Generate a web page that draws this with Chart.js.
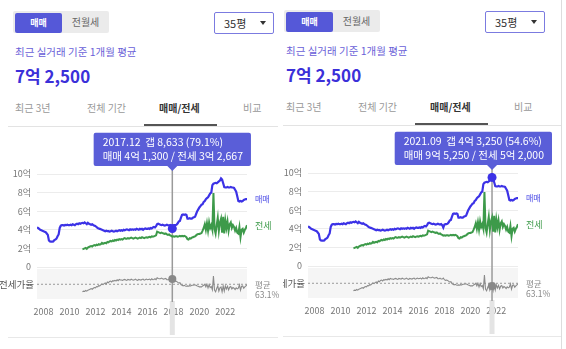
<!DOCTYPE html>
<html><head><meta charset="utf-8">
<script src="https://cdn.jsdelivr.net/npm/chart.js@4.4.1/dist/chart.umd.min.js"></script>
<style>
html,body{margin:0;padding:0;background:#fff;}
body{width:566px;height:349px;overflow:hidden;position:relative;font-family:"Noto Sans CJK KR","Noto Sans",sans-serif;}
.panel{position:absolute;top:0;height:349px;overflow:hidden;}
.inner{position:absolute;width:300px;height:349px;}
.abs{position:absolute;white-space:nowrap;}
.seg{left:13px;top:11px;width:96px;height:22px;background:#ebebeb;border-radius:2px;}
.seg .on{position:absolute;left:2px;top:2px;width:47px;height:20px;background:#5558d8;color:#fff;font-size:9px;font-weight:bold;line-height:20px;text-align:center;border-radius:2px;}
.seg .off{position:absolute;left:49px;top:0;width:47px;height:22px;color:#666;font-size:10px;line-height:22px;text-align:center;}
.size{left:214px;top:12px;width:58px;height:20px;border:1px solid #7b7be0;border-radius:2px;}
.size .t{position:absolute;left:9px;top:0;line-height:20px;font-size:11px;color:#333;}
.size .tri{position:absolute;left:45px;top:8px;width:0;height:0;border-left:3.5px solid transparent;border-right:3.5px solid transparent;border-top:4px solid #333;}
.sub{left:15px;top:45px;font-size:10.5px;line-height:14px;color:#6a5fd8;}
.big{left:15px;top:65px;font-size:17px;line-height:22px;font-weight:bold;color:#3b30d9;}
.tab{top:101px;font-size:10px;line-height:14px;color:#999;}
.tab.act{color:#333;font-weight:bold;}
.line{background:#e3e3e3;height:1px;}
.under{left:144px;top:124px;width:73px;height:2px;background:#555;}
canvas{position:absolute;left:0;top:128px;}
</style>
</head><body>
<div id="p1" class="panel" style="left:0;width:280px;"></div>
<div id="p2" class="panel" style="left:283px;width:283px;"><div class="abs" style="left:278px;top:0;width:1px;height:349px;background:#ddd;"></div></div>
<script>
// ---- data (억 원, monthly from 2007.07) ----
const START_YEAR = 2007;
const START_MONTH = 7;
const saleEok = [
  4.25,4.2,4.1,4.0,3.95,3.9,
  3.85,3.8,3.75,3.6,3.45,2.85,2.75,2.72,2.72,2.75,2.9,2.95,
  3.05,3.3,3.5,4.2,4.45,4.5,4.5,4.45,4.52,4.5,4.55,4.5,
  4.5,4.55,4.5,4.6,4.55,4.5,4.6,4.65,4.6,4.7,4.65,4.7,
  4.75,4.7,4.8,4.7,4.6,4.75,4.65,4.6,4.55,4.6,4.5,4.45,
  4.4,4.3,4.2,4.15,4.1,4.05,4.0,3.95,3.9,3.85,3.9,3.85,
  3.85,3.8,3.85,3.9,3.85,3.8,3.85,3.9,3.85,3.9,3.95,3.9,
  3.95,3.9,4.0,3.95,4.0,4.05,4.0,3.95,4.05,4.0,4.05,4.0,
  4.05,4.0,4.1,4.05,4.0,4.1,4.05,4.1,4.0,4.1,4.15,4.1,
  4.1,4.15,4.1,4.2,4.15,4.25,4.3,4.25,4.4,4.6,4.65,4.6,
  4.55,4.5,4.55,4.5,4.45,4.5,4.55,4.5,4.45,4.5,4.4,4.13,
  4.45,4.5,4.5,4.55,4.7,4.9,4.95,5.3,5.6,5.65,5.6,5.65,
  5.6,5.2,5.2,5.25,5.2,5.2,5.3,5.35,5.4,5.7,6.0,6.2,
  6.4,6.55,6.7,6.75,7.0,7.1,7.3,7.4,7.5,7.7,7.9,8.0,
  8.8,8.95,9.0,9.05,9.0,9.1,9.2,9.3,9.525,9.4,9.0,8.6,
  8.57,8.55,8.6,8.55,8.55,8.6,8.55,8.55,8.5,8.3,8.1,7.6,
  7.1,7.05,7.1,7.05,7.1,7.2,7.25,7.3,7.3
];
const JEONSE_START_INDEX = 42; // 2011.01
const jeonseEok = [
  1.9,1.95,2.0,2.05,1.95,2.1,2.15,2.2,2.25,2.2,2.3,2.35,
  2.3,2.4,2.35,2.45,2.4,2.45,2.6,2.5,2.55,2.6,2.55,2.7,
  2.65,2.75,2.8,2.75,2.85,2.8,2.9,2.85,2.95,2.9,3.0,2.95,
  3.0,2.95,3.05,3.1,3.05,3.05,3.1,3.05,3.1,3.15,3.1,3.05,
  3.1,3.15,3.1,3.05,3.1,3.15,3.1,3.2,3.15,3.1,3.15,3.2,
  3.15,3.2,3.25,3.2,3.3,3.25,3.3,3.35,3.4,3.8,3.75,3.7,
  3.65,3.7,3.65,3.6,3.55,3.6,3.5,3.45,3.5,3.4,3.35,3.2667,
  3.3,3.25,3.3,3.3,3.25,3.3,3.35,3.3,3.35,3.3,3.35,3.3,
  3.2,3.0,2.95,3.1,3.05,3.15,3.2,3.25,3.3,3.4,3.5,3.55,
  3.55,3.6,3.65,3.9,4.2,4.6,4.0,4.7,3.9,4.8,4.2,4.5,
  4.0,7.96,4.1,3.6,4.5,5.3,3.9,4.8,5.2,3.7,5.4,3.6,
  5.0,4.2,4.9,3.9,4.6,4.8,4.2,4.5,4.3,3.9,4.2,3.7,
  3.6,4.3,3.2,4.0,4.1,3.7,4.0,4.2,4.5
];
const ratioPct = [
  40,42,41,44,42,45,46,48,50,48,51,53,
  52,56,55,59,58,61,64,62,65,67,64,70,
  68,72,73,70,74,73,75,73,77,74,78,76,
  76,75,77,78,76,75,78,77,76,79,77,76,
  77,79,76,75,78,77,76,78,79,76,77,79,
  77,78,79,76,80,77,78,80,77,83,81,80,
  80,82,80,79,80,81,77,77,79,76,76,79.1,
  74,72,73,72,69,67,68,62,60,58,60,58,
  57,58,57,59,58,60,60,61,61,60,58,57,
  55,55,55,58,60,63,55,63,52,62,53,56,
  46,88,45,40,50,58,42,52,54.6,40,58,42,
  58,49,57,46,54,56,49,53,51,47,52,49,
  51,61,45,57,58,51,55,58,62
];
const ratioAverage = 63.1;
const yearTicks = [2008,2010,2012,2014,2016,2018,2020,2022];
const priceTicks = [0,2,4,6,8,10];
const highlightMonths = ['2017.12','2021.09'];

// ---- derived structures ----
const FONT = '"Noto Sans CJK KR","Noto Sans",sans-serif';
Chart.defaults.font.family = FONT;
const monthLabels = saleEok.map((_, i) => {
  const t = START_MONTH - 1 + i;
  const y = START_YEAR + Math.floor(t / 12), m = t % 12 + 1;
  return y + '.' + String(m).padStart(2, '0');
});
const xOf = i => START_YEAR + (START_MONTH - 1 + i) / 12;
const jeonseFull = saleEok.map((_, i) => i >= JEONSE_START_INDEX ? jeonseEok[i - JEONSE_START_INDEX] : null);
const ratioFull = saleEok.map((_, i) => i >= JEONSE_START_INDEX ? ratioPct[i - JEONSE_START_INDEX] : null);
const X_MIN = xOf(0), X_MAX = xOf(saleEok.length - 1);

function fmtMan(eok) {
  const man = Math.round(eok * 10000);
  const e = Math.floor(man / 10000), r = man % 10000;
  const rs = r.toLocaleString('en-US');
  return e > 0 ? e + '억 ' + rs : rs;
}

Chart.Tooltip.positioners.aboveArea = function (items) {
  if (!items.length) return false;
  return { x: items[0].element.x, y: this.chart.chartArea.top - 3 };
};

const deco = {
  id: 'deco',
  beforeDatasetsDraw(chart) {
    const ctx = chart.ctx, ca = chart.chartArea, y2 = chart.scales.y2;
    ctx.save();
    ctx.fillStyle = '#f5f5f5';
    ctx.fillRect(ca.left, y2.top + 2, ca.right - ca.left, y2.bottom - y2.top - 2);
    const act = chart.getActiveElements();
    if (act.length) {
      const x = act[0].element.x;
      ctx.fillStyle = '#e4e4e4';
      ctx.fillRect(x - 2.5, ca.bottom + 2, 5, 34);
      ctx.strokeStyle = '#9a9a9a';
      ctx.lineWidth = 1.5;
      ctx.beginPath();
      ctx.moveTo(x, ca.top - 4);
      ctx.lineTo(x, ca.bottom + 3);
      ctx.stroke();
    }
    ctx.restore();
  },
  afterDatasetsDraw(chart) {
    const ctx = chart.ctx, ca = chart.chartArea, y = chart.scales.y, y2 = chart.scales.y2;
    const tx = ca.right + 8;
    ctx.save();
    ctx.textBaseline = 'middle';
    ctx.textAlign = 'left';
    ctx.font = '8px ' + FONT;
    ctx.fillStyle = '#4a4ae6';
    ctx.fillText('매매', tx, y.getPixelForValue(saleEok[saleEok.length - 1]));
    ctx.font = '9px ' + FONT;
    ctx.fillStyle = '#3d9a4a';
    ctx.fillText('전세', tx, y.getPixelForValue(jeonseEok[jeonseEok.length - 1]));
    ctx.font = '8.5px ' + FONT;
    ctx.fillStyle = '#888';
    const ay = y2.getPixelForValue(ratioAverage);
    ctx.fillText('평균', tx, ay);
    ctx.fillText(ratioAverage.toFixed(1) + '%', tx, ay + 10);
    ctx.restore();
  }
};

function buildPanel(el, dx, dy, lineW, highlight) {
  const inner = document.createElement('div');
  inner.className = 'inner';
  inner.style.left = dx + 'px';
  inner.style.top = dy + 'px';
  inner.innerHTML =
    '<div class="abs seg"><div class="on">매매</div><div class="off">전월세</div></div>' +
    '<div class="abs size"><span class="t">35평</span><span class="tri"></span></div>' +
    '<div class="abs sub">최근 실거래 기준 1개월 평균</div>' +
    '<div class="abs big">7억 2,500</div>' +
    '<div class="abs tab" style="left:15px">최근 3년</div>' +
    '<div class="abs tab" style="left:87px">전체 기간</div>' +
    '<div class="abs tab act" style="left:159px">매매/전세</div>' +
    '<div class="abs tab" style="left:243px">비교</div>' +
    '<div class="abs line" style="left:8px;top:126px;width:' + lineW + 'px"></div>' +
    '<div class="abs under"></div>' +
    '<div class="abs line" style="left:8px;top:337px;width:' + lineW + 'px;background:#e8e8e8"></div>';
  el.appendChild(inner);
  const cv = document.createElement('canvas');
  cv.width = 281; cv.height = 212;
  inner.appendChild(cv);

  const pts = arr => arr.map((v, i) => ({ x: xOf(i), y: v }));
  const chart = new Chart(cv, {
    type: 'line',
    data: {
      datasets: [
        { label: '매매', data: pts(saleEok), yAxisID: 'y', borderColor: '#3c32e6', borderWidth: 2.2,
          pointRadius: 0, pointHoverRadius: 4.5, pointHoverBackgroundColor: '#3c32e6', pointHoverBorderColor: '#3c32e6', pointHoverBorderWidth: 0, tension: 0 },
        { label: '전세', data: pts(jeonseFull), yAxisID: 'y', borderColor: '#3d9a4a', borderWidth: 2,
          pointRadius: 0, pointHoverRadius: 0, tension: 0 },
        { label: '전세가율', data: pts(ratioFull), yAxisID: 'y2', borderColor: '#8a8a8a', borderWidth: 1.1,
          pointRadius: 0, pointHoverRadius: 4, pointHoverBackgroundColor: '#888', pointHoverBorderColor: '#888', pointHoverBorderWidth: 0, tension: 0 },
        { label: '평균', data: [{ x: X_MIN, y: ratioAverage }, { x: X_MAX, y: ratioAverage }], yAxisID: 'y2',
          borderColor: '#9a9a9a', borderWidth: 1, borderDash: [2, 2], pointRadius: 0, pointHoverRadius: 0 }
      ]
    },
    options: {
      responsive: false, animation: false, devicePixelRatio: 1, events: [],
      layout: { padding: { left: 0, right: 34, top: 46, bottom: 0 } },
      scales: {
        x: {
          type: 'linear', min: X_MIN, max: X_MAX,
          grid: { display: false, drawTicks: false }, border: { display: false },
          afterBuildTicks: s => { s.ticks = yearTicks.map(v => ({ value: v })); },
          afterFit: s => { s.height = 41; },
          ticks: { padding: 7, color: '#777', font: { size: 9 }, maxRotation: 0, autoSkip: false, callback: v => String(v) }
        },
        y2: {
          stack: 'main', stackWeight: 32, position: 'left', min: 18, max: 116, offset: false,
          grid: { display: false, drawTicks: false }, border: { display: false },
          afterBuildTicks: s => { s.ticks = [{ value: ratioAverage }]; },
          afterFit: s => { s.width = 37; },
          ticks: { padding: 3, color: '#555', font: { size: 9.5 }, autoSkip: false, callback: () => '전세가율' }
        },
        y: {
          stack: 'main', stackWeight: 93, position: 'left', min: 0, max: 10,
          grid: { color: '#ececec', drawTicks: false }, border: { display: false },
          afterBuildTicks: s => { s.ticks = priceTicks.map(v => ({ value: v })); },
          afterFit: s => { s.width = 37; },
          ticks: { padding: 6, color: '#777', font: { size: 9 }, autoSkip: false, callback: v => v === 0 ? '0' : v + '억' }
        }
      },
      plugins: {
        legend: { display: false },
        tooltip: {
          enabled: true, position: 'aboveArea', xAlign: 'center', yAlign: 'bottom',
          backgroundColor: '#5a5ed8', titleColor: '#fff', bodyColor: '#fff',
          titleFont: { size: 10.5, weight: 'normal' }, bodyFont: { size: 10.5 },
          titleMarginBottom: 1, padding: { top: 3, bottom: 4, left: 9, right: 8 },
          cornerRadius: 2, caretSize: 5, caretPadding: 0, displayColors: false,
          filter: it => it.datasetIndex === 0,
          callbacks: {
            title: items => {
              const i = items[0].dataIndex;
              return monthLabels[i] + '  갭 ' + fmtMan(saleEok[i] - jeonseFull[i]) + ' (' + ratioFull[i].toFixed(1) + '%)';
            },
            label: item => {
              const i = item.dataIndex;
              return '매매 ' + fmtMan(saleEok[i]) + ' / 전세 ' + fmtMan(jeonseFull[i]);
            }
          }
        }
      }
    },
    plugins: [deco]
  });
  const idx = monthLabels.indexOf(highlight);
  chart.setActiveElements([{ datasetIndex: 0, index: idx }, { datasetIndex: 2, index: idx }]);
  chart.tooltip.setActiveElements([{ datasetIndex: 0, index: idx }], { x: 0, y: 0 });
  chart.update();
}

buildPanel(document.getElementById('p1'), 0, 0, 270, highlightMonths[0]);
buildPanel(document.getElementById('p2'), -12, -1, 282, highlightMonths[1]);
</script>
</body></html>
